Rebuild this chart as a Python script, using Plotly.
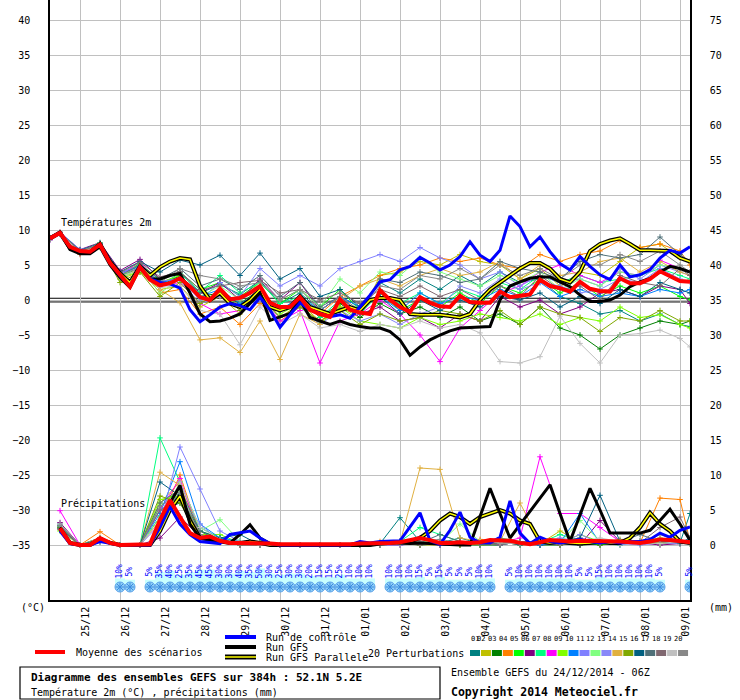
import plotly.graph_objects as go
import pandas as pd

# ---------------- time grids (hours after 24/12/2014 06Z) ----------------
base = pd.Timestamp("2014-12-24 06:00")
main_hours = list(range(0, 385, 6))                 # 65 steps, temperature runs
precip_hours = list(range(6, 385, 6))               # 64 steps, precipitation runs
pert_hours = [0] + list(range(6, 379, 12)) + [384]  # 34 steps, perturbation temps
pert_precip_hours = list(range(6, 379, 12)) + [384] # 33 steps, perturbation precip

# ---------------- temperature 2m (°C) ----------------
mean_temp = [8.8, 9.6, 7.6, 7.0, 6.9, 7.9, 5.3, 3.6, 1.9, 4.7, 2.9, 2.1, 2.4, 3.1, 1.9, 0.4,
             0.0, 1.6, 0.1, 0.3, 1.0, 2.0, -0.4, -1.0, -1.0, 0.4, -1.4, -2.0, -2.4, 0.1, -1.4, -1.8,
             -2.0, 1.4, 0.0, -1.0, -1.7, 0.4, -0.4, -0.9, -1.0, 0.6, -0.3, -0.4, -0.4, 1.2, 0.4, 0.6,
             0.8, 2.9, 2.0, 1.7, 1.2, 2.6, 1.6, 1.3, 1.2, 3.1, 2.4, 2.4, 3.0, 4.1, 3.4, 2.7, 2.6]
control_temp = [8.8, 9.6, 7.6, 7.0, 6.9, 7.9, 5.3, 3.5, 2.0, 4.8, 3.0, 2.5, 2.3, 1.7, -1.4, -3.1,
                -2.1, -1.0, -0.5, -0.8, -1.4, 0.4, -1.4, -3.9, -2.1, -0.4, -1.4, -1.9, -2.4, -2.1, -2.6, -1.0,
                0.7, 2.6, 2.9, 4.3, 4.8, 6.1, 5.3, 4.3, 5.0, 6.2, 8.3, 6.4, 5.5, 7.1, 12.0, 10.5,
                7.6, 9.0, 6.9, 5.2, 4.3, 6.2, 4.8, 3.6, 2.9, 5.0, 3.3, 3.6, 4.3, 6.0, 7.1, 6.7, 7.6]
gfs_temp = [8.9, 9.7, 7.2, 6.6, 6.6, 7.6, 5.0, 3.2, 1.8, 4.6, 3.0, 3.0, 3.5, 3.8, 1.0, -2.0,
            -3.1, -3.0, -2.6, -2.0, -0.5, 1.0, -2.9, -2.4, -1.9, 0.0, -2.5, -3.0, -3.5, -3.0, -3.5, -3.8,
            -4.0, -4.0, -4.5, -5.7, -7.9, -6.7, -5.7, -5.0, -4.4, -4.0, -3.9, -3.9, -3.8, 0.0, 2.0, 2.6,
            3.1, 3.3, 3.3, 2.6, 1.9, 0.7, -0.2, -0.2, 0.0, 0.7, 1.9, 2.6, 3.1, 4.0, 4.8, 4.5, 4.0]
para_temp = [8.8, 9.6, 7.4, 6.8, 6.8, 8.0, 5.5, 3.8, 2.5, 4.8, 3.5, 4.7, 5.5, 6.0, 5.8, 2.0,
             0.0, 1.0, -0.5, -1.0, 0.0, 1.5, -1.0, -1.5, -1.0, 0.5, -1.0, -1.5, -2.0, -1.5, -1.0, -1.5,
             0.0, 0.3, 0.3, 0.0, -2.0, -2.1, -2.1, -2.1, -2.3, -2.5, -2.0, 0.0, 1.5, 2.5, 3.5, 4.5,
             5.3, 5.3, 4.5, 3.0, 2.5, 4.0, 7.0, 8.0, 8.5, 8.8, 8.0, 7.1, 7.1, 7.1, 7.0, 6.0, 5.5]

pert_temp = {
    "01": [8.6, 9.5, 7.0, 8.0, 3.8, 5.0, 2.5, 3.4, 1.0, 2.2, 0.8, 2.8, -0.5, 1.0, -1.5, 0.5, -1.0,
           2.5, 1.0, 3.0, 1.5, 3.5, 2.0, 4.0, 2.5, 3.0, 0.5, -0.5, -2.0, -1.5, -3.0, -2.0, -3.5, -3.8],
    "02": [8.7, 9.4, 6.5, 7.5, 3.0, 4.0, 1.5, 2.0, -1.0, 0.5, -2.0, 1.0, -2.5, -0.5, -3.0, -1.0, -2.5,
           3.5, 4.0, 5.5, 5.0, 6.5, 5.5, 5.0, 3.0, 4.5, 2.0, 4.0, 3.5, 5.5, 7.5, 8.0, 6.0, 5.5],
    "03": [8.8, 9.6, 7.1, 8.0, 3.4, 4.5, 2.0, 3.5, 0.5, 1.0, -0.5, 1.5, -1.5, 0.0, -2.5, -0.5, -2.5,
           -0.5, -2.0, -1.0, -2.5, -1.0, -3.0, -2.0, -3.5, -1.0, -4.0, -5.0, -7.0, -5.0, -4.0, -3.0, -3.5, -3.0],
    "04": [8.9, 9.7, 6.8, 7.8, 3.2, 4.5, 1.0, 1.5, -2.0, -1.0, -3.5, -0.5, -3.0, -1.0, -2.0, 0.5, 2.0,
           3.5, 4.5, 5.0, 6.0, 5.5, 6.0, 5.0, 4.5, 6.5, 5.5, 6.5, 7.0, 8.5, 7.5, 8.0, 7.0, 5.0],
    "05": [8.8, 9.5, 6.9, 8.1, 3.5, 5.2, 2.8, 4.0, 1.5, 2.5, 0.5, 2.5, -0.5, 1.5, -1.0, 1.5, -1.5,
           1.0, -1.5, 0.0, -1.0, 1.0, -0.5, 2.0, 1.0, 3.0, 1.0, 2.5, 0.5, 2.0, 1.0, 2.0, 0.5, 0.0],
    "06": [8.7, 9.6, 7.2, 8.2, 4.2, 5.8, 3.0, 4.0, 1.0, 2.5, 0.0, 3.0, 0.0, 2.5, -1.5, 0.5, -2.0,
           -1.0, -3.0, -2.5, -4.0, -2.0, -3.0, 0.5, -1.0, 0.0, -2.0, -1.0, 1.0, 1.5, 0.5, 2.0, 1.5, -0.5],
    "07": [8.8, 9.5, 7.0, 7.9, 3.6, 4.2, 2.2, 3.8, 1.2, 3.5, 1.0, 2.5, -0.5, 0.5, -2.5, 0.0, -2.0,
           1.0, -0.5, 1.0, -0.5, 1.5, 0.5, 2.5, 1.5, 3.5, 2.5, 3.5, 2.5, 3.0, 3.5, 4.5, 3.5, 3.0],
    "08": [8.6, 9.4, 6.6, 7.7, 3.5, 5.5, 2.0, 2.5, -0.5, -2.0, -1.5, 0.5, -3.0, -1.5, -9.0, -3.0, -2.0,
           0.0, -2.0, -5.0, -8.8, -4.0, -1.5, 1.0, 2.0, 4.0, 5.0, 3.5, 2.5, 4.0, 3.5, 5.7, 4.5, 4.0],
    "09": [8.8, 9.6, 6.9, 7.8, 3.3, 4.0, 2.5, 3.5, 0.0, 1.0, -1.0, 1.5, -2.0, -0.5, -3.5, -1.0, -3.0,
           -3.5, -4.0, -2.5, -3.5, -3.0, -2.0, -2.5, -3.0, -2.0, -3.5, -2.5, -3.0, -1.0, -2.5, -2.1, -3.5, -4.0],
    "10": [8.7, 9.5, 7.1, 8.0, 3.7, 4.8, 2.4, 3.2, 0.5, 1.5, -0.5, 1.0, -1.5, 0.5, -1.5, 0.5, -1.0,
           0.5, -1.5, 1.0, -0.5, 0.5, 0.0, 1.5, 0.5, 2.5, 0.5, 1.5, 0.5, 1.0, 0.5, 1.5, 1.0, 1.5],
    "11": [8.8, 9.6, 7.0, 8.1, 3.9, 4.9, 2.7, 3.0, 0.0, 2.5, 0.5, 4.5, 2.0, 3.5, 2.0, 4.5, 5.5,
           6.5, 5.5, 7.5, 6.0, 5.0, 3.0, 4.0, 2.0, 3.5, 2.5, 3.0, 2.0, 4.5, 3.0, 5.0, 4.0, 3.5],
    "12": [8.8, 9.5, 6.9, 8.2, 3.0, 4.5, 1.0, 3.0, 0.5, 2.0, 0.0, 2.5, 0.0, 1.5, -1.0, 3.0, 1.0,
           4.0, 3.5, 6.0, 4.0, 3.0, 2.0, 3.5, 2.5, 4.0, 1.5, 3.0, 2.0, 4.0, 3.5, 5.0, 4.5, 4.0],
    "13": [8.9, 9.7, 7.2, 7.9, 3.8, 4.5, 2.3, 2.8, -0.5, 0.5, -1.0, 0.0, -2.5, -1.0, -3.5, -1.5, -3.0,
           -2.0, -3.5, -2.0, -1.0, 2.0, 1.0, 3.0, 1.5, 2.5, 2.0, 1.0, 1.5, 3.0, 2.5, 4.5, 3.0, 2.5],
    "14": [8.8, 9.6, 6.8, 7.7, 3.4, 4.3, 1.5, -0.4, -5.7, -5.4, -7.5, -3.0, -8.5, -2.0, -3.5, 0.0, 2.0,
           3.0, 2.0, 3.5, 4.5, 3.5, 4.0, 5.5, 3.0, 5.0, 3.5, 4.0, 5.5, 6.0, 4.0, 5.5, 4.0, 3.5],
    "15": [8.7, 9.5, 6.7, 7.6, 2.5, 4.0, 0.5, 2.5, -0.5, 1.0, -1.5, 0.5, -2.5, -1.0, -3.0, -1.5, -3.5,
           -2.0, -3.0, -2.5, -1.5, -2.0, -3.0, -1.5, -3.5, -1.0, -2.0, -2.5, -4.5, -2.5, -3.0, -1.5, -3.0, -3.0],
    "16": [8.8, 9.6, 7.1, 8.1, 4.0, 5.5, 4.0, 5.7, 5.0, 6.4, 3.5, 6.7, 3.0, 4.5, 0.5, 1.5, -1.0,
           0.5, -2.0, 0.0, -1.5, 0.0, -1.0, 0.5, 0.0, 1.0, -1.0, 0.5, -0.5, 1.5, 0.5, 2.5, 1.5, 1.0],
    "17": [8.8, 9.6, 7.0, 8.0, 3.5, 5.0, 3.0, 4.5, 2.0, 3.0, 1.5, 3.5, 0.5, 2.5, -1.0, 0.5, -2.0,
           3.0, 2.5, 4.0, 3.5, 2.5, 3.0, 5.5, 4.5, 4.0, 3.0, 5.5, 6.5, 6.0, 6.5, 9.0, 6.5, 5.5],
    "18": [8.7, 9.5, 6.9, 7.9, 3.9, 5.4, 3.3, 4.0, 1.5, 2.0, 2.5, 2.8, 1.0, 1.5, 0.0, 1.0, -0.5,
           1.5, 0.5, 2.0, 0.5, 1.5, 0.0, 2.0, 0.5, 3.5, 1.5, 2.0, 0.0, 3.5, 2.5, 2.0, 4.5, 3.5],
    "19": [8.7, 9.5, 6.8, 7.7, 3.3, 4.4, 1.8, 2.0, -1.5, -2.0, -6.4, -1.0, -3.5, -2.0, -4.0, -3.5, -4.5,
           -3.5, -4.0, -3.0, -4.0, -3.5, -4.7, -8.8, -9.0, -8.1, -2.3, -6.2, -9.0, -5.0, -4.8, -4.3, -5.5, -6.7],
    "20": [8.8, 9.6, 7.0, 8.0, 3.6, 4.6, 2.5, 4.5, 3.5, 3.0, 2.0, 2.5, 0.0, 1.5, -1.5, 0.5, -1.5,
           2.0, 1.5, 3.5, 3.0, 4.5, 3.0, 5.0, 3.5, 4.5, 3.0, 5.0, 5.0, 6.5, 5.5, 7.0, 5.0, 4.0],
}

# ---------------- precipitation (mm) ----------------
mean_precip = [2.4, 0.3, 0.0, 0.0, 1.0, 0.3, 0.0, 0.0, 0.0, 0.1, 3.6, 6.4, 4.0, 1.7, 1.0, 1.2,
               0.6, 0.3, 0.3, 0.3, 0.3, 0.2, 0.1, 0.1, 0.1, 0.1, 0.0, 0.0, 0.1, 0.1, 0.2, 0.2,
               0.3, 0.3, 0.4, 0.7, 1.0, 0.7, 0.3, 0.3, 0.4, 0.3, 0.4, 0.7, 0.7, 0.6, 0.3, 0.1,
               0.4, 0.7, 0.6, 0.5, 0.6, 0.6, 0.6, 0.6, 0.5, 0.4, 0.3, 0.5, 0.8, 0.7, 0.6, 0.4]
control_precip = [2.0, 0.2, 0.0, 0.0, 0.5, 0.2, 0.0, 0.0, 0.0, 0.0, 2.5, 5.5, 3.0, 1.5, 0.5, 0.3,
                  0.2, 1.5, 1.8, 2.0, 1.0, 0.2, 0.0, 0.0, 0.0, 0.0, 0.0, 0.0, 0.0, 0.0, 0.5, 0.3,
                  0.5, 0.6, 0.6, 2.6, 4.6, 0.6, 0.1, 2.1, 4.7, 1.1, 0.3, 0.3, 1.1, 6.3, 1.7, 0.2,
                  1.1, 0.5, 0.3, 0.5, 0.8, 0.5, 0.3, 0.5, 0.3, 0.5, 0.5, 0.8, 1.7, 1.1, 2.1, 2.6]
gfs_precip = [2.5, 0.3, 0.0, 0.0, 1.0, 0.3, 0.0, 0.0, 0.0, 0.0, 3.0, 6.0, 8.5, 3.0, 1.0, 0.8,
              0.5, 0.3, 1.5, 2.9, 1.0, 0.2, 0.0, 0.0, 0.0, 0.0, 0.0, 0.0, 0.0, 0.0, 0.0, 0.0,
              0.3, 0.5, 0.3, 0.2, 0.3, 0.2, 0.1, 0.0, 0.0, 0.0, 4.0, 8.1, 4.5, 1.0, 2.9, 4.8,
              6.7, 8.6, 4.5, 0.5, 4.3, 8.1, 5.0, 1.7, 1.7, 1.7, 1.7, 2.1, 3.5, 5.1, 3.0, 0.7]
para_precip = [2.3, 0.3, 0.0, 0.0, 0.8, 0.3, 0.0, 0.0, 0.0, 0.0, 2.0, 5.0, 7.0, 3.5, 1.0, 0.8,
               0.5, 0.3, 0.3, 0.5, 0.3, 0.0, 0.0, 0.0, 0.0, 0.0, 0.0, 0.0, 0.0, 0.0, 0.0, 0.0,
               0.2, 0.3, 0.5, 0.5, 1.0, 2.0, 3.5, 4.5, 4.0, 3.0, 4.0, 4.5, 5.0, 4.5, 3.5, 3.0,
               0.5, 0.3, 0.5, 0.3, 0.2, 0.3, 0.5, 0.3, 0.3, 1.0, 2.5, 4.6, 3.0, 2.0, 0.5, 0.3]

pert_precip = {
    "01": [3.0, 0.0, 0.8, 0.0, 0.0, 5.0, 6.0, 1.5, 1.0, 0.3, 0.2, 0.0, 0.0, 0.0, 0.0, 0.0, 0.2,
           3.9, 0.5, 0.3, 1.0, 0.2, 0.0, 0.5, 0.3, 0.2, 0.0, 0.5, 0.3, 0.2, 0.5, 0.3, 4.5],
    "02": [2.5, 0.0, 0.5, 0.0, 0.0, 6.0, 9.0, 2.0, 0.5, 0.2, 0.0, 0.0, 0.0, 0.0, 0.0, 0.0, 0.0,
           0.5, 0.0, 0.0, 0.3, 0.0, 0.5, 0.0, 0.2, 2.0, 0.5, 0.0, 0.3, 0.5, 1.0, 0.5, 0.3],
    "03": [2.8, 0.0, 1.0, 0.0, 0.0, 4.0, 7.5, 1.0, 0.8, 0.5, 0.5, 0.0, 0.0, 0.0, 0.0, 0.0, 0.0,
           0.3, 0.5, 0.0, 0.0, 0.0, 0.0, 0.5, 0.0, 0.0, 0.3, 0.0, 0.5, 0.3, 0.5, 0.2, 0.5],
    "04": [2.6, 0.0, 1.9, 0.0, 0.0, 3.5, 10.0, 1.5, 0.5, 0.3, 0.0, 0.0, 0.0, 0.0, 0.0, 0.0, 0.5,
           0.5, 1.0, 0.3, 0.2, 0.8, 0.5, 0.3, 0.5, 0.3, 0.2, 0.5, 0.3, 0.3, 6.7, 6.5, 0.5],
    "05": [2.2, 0.0, 0.5, 0.0, 0.0, 5.5, 8.0, 2.0, 1.0, 0.2, 0.0, 0.0, 0.0, 0.0, 0.0, 0.0, 0.0,
           0.3, 0.0, 0.2, 0.5, 0.0, 0.3, 0.2, 0.0, 0.5, 0.0, 0.2, 0.0, 0.5, 0.3, 0.3, 0.2],
    "06": [3.2, 0.0, 0.5, 0.0, 0.0, 1.0, 4.0, 1.2, 0.5, 0.0, 0.0, 0.0, 0.0, 0.0, 0.0, 0.0, 0.0,
           0.0, 0.3, 0.0, 0.0, 0.5, 0.3, 0.2, 0.0, 0.3, 0.0, 3.5, 0.5, 0.3, 0.0, 0.2, 0.3],
    "07": [2.5, 0.0, 0.5, 0.0, 0.0, 15.3, 9.0, 2.5, 1.0, 0.5, 0.0, 0.0, 0.0, 0.0, 0.0, 0.0, 0.0,
           0.5, 2.5, 1.5, 0.5, 0.3, 1.0, 0.5, 0.3, 1.5, 0.5, 0.5, 0.3, 0.5, 0.2, 0.3, 0.5],
    "08": [4.9, 0.0, 0.5, 0.0, 0.0, 5.0, 9.5, 1.0, 0.5, 0.0, 0.0, 0.0, 0.0, 0.0, 0.0, 0.0, 0.0,
           0.5, 1.0, 0.3, 0.5, 0.5, 0.3, 1.0, 12.6, 4.5, 4.5, 2.5, 0.5, 0.5, 0.3, 0.2, 0.5],
    "09": [2.0, 0.0, 0.8, 0.0, 0.0, 6.5, 7.0, 1.5, 1.5, 0.3, 0.0, 0.0, 0.0, 0.0, 0.0, 0.0, 0.0,
           0.3, 0.5, 0.3, 0.0, 0.5, 0.2, 0.3, 0.5, 0.3, 1.5, 0.5, 0.3, 0.5, 0.3, 0.2, 0.5],
    "10": [2.7, 0.0, 1.0, 0.0, 0.0, 4.5, 11.9, 3.0, 1.0, 0.5, 0.0, 0.0, 0.0, 0.0, 0.0, 0.0, 0.0,
           0.5, 0.3, 0.5, 0.3, 0.0, 0.5, 0.3, 0.0, 0.3, 4.5, 0.3, 0.5, 0.5, 0.3, 0.5, 0.5],
    "11": [2.4, 0.0, 0.5, 0.0, 0.0, 3.0, 14.0, 8.0, 2.0, 0.5, 0.0, 0.0, 0.0, 0.0, 0.0, 0.0, 0.0,
           0.3, 0.0, 0.2, 0.5, 0.3, 0.0, 0.5, 0.3, 1.0, 0.5, 0.3, 0.0, 0.5, 0.2, 0.3, 0.2],
    "12": [2.6, 0.0, 0.5, 0.0, 0.0, 4.0, 8.0, 2.0, 3.6, 0.5, 0.0, 0.0, 0.0, 0.0, 0.0, 0.0, 0.0,
           0.2, 0.5, 0.3, 3.0, 0.5, 0.3, 0.2, 0.5, 0.3, 3.5, 0.5, 0.3, 0.2, 0.5, 0.3, 0.5],
    "13": [2.2, 0.0, 0.6, 0.0, 0.0, 5.0, 7.0, 3.0, 0.5, 0.0, 0.0, 0.0, 0.0, 0.0, 0.0, 0.0, 0.0,
           0.0, 0.2, 0.0, 0.3, 0.0, 0.5, 0.3, 0.5, 0.2, 1.5, 0.3, 0.2, 0.0, 0.3, 0.2, 0.3],
    "14": [2.3, 0.0, 1.0, 0.0, 0.0, 10.4, 8.5, 1.5, 0.5, 0.3, 0.0, 0.0, 0.0, 0.0, 0.0, 0.0, 0.0,
           0.3, 11.0, 10.8, 1.0, 0.5, 0.5, 6.0, 0.5, 0.3, 0.5, 0.3, 0.2, 0.5, 0.3, 0.5, 0.2],
    "15": [2.5, 0.0, 0.7, 0.0, 0.0, 7.0, 6.0, 1.0, 0.5, 0.0, 0.0, 0.0, 0.0, 0.0, 0.0, 0.0, 0.0,
           0.2, 0.0, 0.5, 0.3, 0.0, 0.2, 0.5, 0.3, 0.0, 0.5, 0.3, 0.8, 0.3, 0.2, 0.5, 0.3],
    "16": [2.4, 0.0, 0.8, 0.0, 0.0, 9.0, 7.0, 2.0, 1.0, 1.5, 0.0, 0.0, 0.0, 0.0, 0.0, 0.0, 0.0,
           0.5, 0.3, 0.5, 0.3, 0.2, 0.5, 0.0, 0.3, 0.5, 1.0, 7.1, 0.5, 0.3, 0.5, 0.3, 1.0],
    "17": [2.7, 0.0, 0.5, 0.0, 0.0, 6.0, 8.0, 2.0, 0.5, 0.3, 0.0, 0.0, 0.0, 0.0, 0.0, 0.0, 0.0,
           0.5, 0.3, 1.5, 0.5, 0.3, 0.2, 0.5, 0.3, 0.5, 0.3, 0.2, 0.5, 1.5, 0.5, 0.3, 0.2],
    "18": [2.3, 0.0, 0.6, 0.0, 0.0, 5.0, 6.5, 1.5, 0.5, 0.0, 0.0, 0.0, 0.0, 0.0, 0.0, 0.0, 0.0,
           0.3, 0.0, 0.2, 0.5, 0.3, 0.0, 0.5, 0.3, 0.0, 0.5, 0.3, 0.5, 0.3, 2.5, 4.0, 1.0],
    "19": [3.0, 0.0, 0.5, 0.0, 0.0, 3.5, 9.0, 2.5, 0.8, 0.5, 0.0, 0.0, 0.0, 0.0, 0.0, 0.0, 0.0,
           0.2, 0.3, 0.5, 0.2, 0.5, 0.3, 0.2, 0.5, 0.3, 0.5, 1.0, 0.5, 0.3, 0.2, 0.5, 0.3],
    "20": [2.8, 0.0, 0.5, 0.0, 0.0, 5.5, 7.5, 1.5, 0.5, 0.3, 0.0, 0.0, 0.0, 0.0, 0.0, 0.0, 0.0,
           0.3, 0.5, 0.8, 0.3, 0.2, 0.5, 0.3, 0.2, 0.5, 0.3, 0.2, 0.5, 0.3, 1.5, 0.5, 0.3],
}

pert_colors = {
    "01": "#008080", "02": "#c0c000", "03": "#008000", "04": "#ff8000", "05": "#00ff00",
    "06": "#800080", "07": "#00ff80", "08": "#ff00ff", "09": "#80ff00", "10": "#0080ff",
    "11": "#8080ff", "12": "#80ff80", "13": "#8888f8", "14": "#e0b040", "15": "#80a800",
    "16": "#006080", "17": "#507078", "18": "#806870", "19": "#c0c0c0", "20": "#888888",
}

# ---------------- snow probability (%) ----------------
snow_hours = [42, 48,
              60, 66, 72, 78, 84, 90, 96, 102, 108, 114, 120, 126, 132, 138, 144, 150, 156, 162, 168,
              174, 180, 186, 192,
              204, 210, 216, 222, 228, 234, 240, 246, 252, 258, 264,
              276, 282, 288, 294, 300, 306, 312, 318, 324, 330, 336, 342, 348, 354, 360, 366,
              384]
snow_pct = [10, 5,
            5, 35, 40, 25, 35, 45, 45, 30, 30, 40, 35, 50, 30, 25, 30, 30, 20, 15, 15, 25, 10, 10, 10,
            10, 10, 10, 15, 5, 15, 5, 5, 5, 10, 10,
            5, 10, 10, 10, 10, 10, 10, 5, 5, 15, 10, 10, 10, 10, 10, 5,
            5]

tick_days = ["2014-12-25", "2014-12-26", "2014-12-27", "2014-12-28", "2014-12-29", "2014-12-30",
             "2014-12-31", "2015-01-01", "2015-01-02", "2015-01-03", "2015-01-04", "2015-01-05",
             "2015-01-06", "2015-01-07", "2015-01-08", "2015-01-09"]
tick_labels = ["25/12", "26/12", "27/12", "28/12", "29/12", "30/12", "31/12", "01/01", "02/01",
               "03/01", "04/01", "05/01", "06/01", "07/01", "08/01", "09/01"]

# ---------------- sanity checks ----------------
for k, v in pert_temp.items():
    if len(v) != len(pert_hours):
        raise ValueError(f"pert_temp {k} has {len(v)}")
for k, v in pert_precip.items():
    if len(v) != len(pert_precip_hours):
        raise ValueError(f"pert_precip {k} has {len(v)}")
for name, v in [("mean_temp", mean_temp), ("control_temp", control_temp), ("gfs_temp", gfs_temp),
                ("para_temp", para_temp)]:
    if len(v) != len(main_hours):
        raise ValueError(f"{name} has {len(v)}")
for name, v in [("mean_precip", mean_precip), ("control_precip", control_precip),
                ("gfs_precip", gfs_precip), ("para_precip", para_precip)]:
    if len(v) != len(precip_hours):
        raise ValueError(f"{name} has {len(v)}")
if len(snow_hours) != len(snow_pct):
    raise ValueError("snow")


def t(hours):
    return [base + pd.Timedelta(hours=h) for h in hours]


FONT = "DejaVu Sans Mono"
fig = go.Figure()

# ---- snow band ----
fig.add_trace(go.Bar(x=t(snow_hours), y=[(4 + 0.25 * p) / 7 for p in snow_pct], base=-40.7,
                     width=6 * 3600 * 1000, marker=dict(color="#c8ffff", line=dict(width=0)),
                     yaxis="y", hoverinfo="skip"))
fig.add_trace(go.Scatter(x=t(snow_hours), y=[-41.0] * len(snow_hours), mode="markers",
                         marker=dict(symbol="circle", size=10, color="#90d0f8",
                                     line=dict(color="#5aa0e8", width=1)), hoverinfo="skip"))
fig.add_trace(go.Scatter(x=t(snow_hours), y=[-41.0] * len(snow_hours), mode="markers",
                         marker=dict(symbol="asterisk-open", size=7, color="#3c8ce0",
                                     line=dict(color="#3c8ce0", width=1)), hoverinfo="skip"))

# ---- temperature ----
for k, v in pert_temp.items():
    c = pert_colors[k]
    fig.add_trace(go.Scatter(x=t(pert_hours), y=v, mode="lines+markers",
                             line=dict(color=c, width=1),
                             marker=dict(symbol="cross-thin", size=4, color=c, line=dict(color=c, width=1))))
fig.add_trace(go.Scatter(x=t(main_hours), y=para_temp, mode="lines", line=dict(color="black", width=4)))
fig.add_trace(go.Scatter(x=t(main_hours), y=para_temp, mode="lines", line=dict(color="#ffff00", width=1.5)))
fig.add_trace(go.Scatter(x=t(main_hours), y=gfs_temp, mode="lines", line=dict(color="black", width=3)))
fig.add_trace(go.Scatter(x=t(main_hours), y=control_temp, mode="lines", line=dict(color="#0000ff", width=3)))
fig.add_trace(go.Scatter(x=t(main_hours), y=mean_temp, mode="lines", line=dict(color="#ff0000", width=4)))

# ---- precipitation (right axis) ----
for k, v in pert_precip.items():
    c = pert_colors[k]
    fig.add_trace(go.Scatter(x=t(pert_precip_hours), y=v, mode="lines+markers", yaxis="y2",
                             line=dict(color=c, width=1),
                             marker=dict(symbol="cross-thin", size=4, color=c, line=dict(color=c, width=1))))
fig.add_trace(go.Scatter(x=t(precip_hours), y=para_precip, mode="lines", yaxis="y2", line=dict(color="black", width=4)))
fig.add_trace(go.Scatter(x=t(precip_hours), y=para_precip, mode="lines", yaxis="y2", line=dict(color="#ffff00", width=1.5)))
fig.add_trace(go.Scatter(x=t(precip_hours), y=gfs_precip, mode="lines", yaxis="y2", line=dict(color="black", width=3)))
fig.add_trace(go.Scatter(x=t(precip_hours), y=control_precip, mode="lines", yaxis="y2", line=dict(color="#0000ff", width=3)))
fig.add_trace(go.Scatter(x=t(precip_hours), y=mean_precip, mode="lines", yaxis="y2", line=dict(color="#ff0000", width=4)))

TOP = 300 / 7.0
fig.update_layout(
    width=740, height=700, margin=dict(l=50, r=50, t=0, b=100),
    paper_bgcolor="white", plot_bgcolor="white", showlegend=False, barmode="overlay",
    font=dict(family=FONT, size=10, color="black"),
    xaxis=dict(type="date", range=[base, base + pd.Timedelta(hours=384)],
               tickvals=tick_days, ticktext=tick_labels, tickangle=-90,
               showgrid=True, gridcolor="#c0c0c0", gridwidth=1,
               showline=True, linecolor="black", linewidth=1.5, ticks="",
               ticklabelstandoff=1, ticklabelshift=6, tickfont=dict(family=FONT, size=10)),
    yaxis=dict(range=[-TOP, TOP], tickvals=list(range(-35, 41, 5)),
               showgrid=True, gridcolor="#c0c0c0", gridwidth=1, zeroline=False,
               showline=True, linecolor="black", linewidth=1.5, ticks="",
               ticklabelstandoff=16, tickfont=dict(family=FONT, size=10)),
    yaxis2=dict(range=[-TOP + 35, TOP + 35], tickvals=list(range(0, 76, 5)), overlaying="y", side="right",
                showgrid=False, zeroline=False, showline=True, linecolor="black", linewidth=1.5,
                ticks="", ticklabelstandoff=16, tickfont=dict(family=FONT, size=10)),
)

# 0°C double line
for yv in (0.25, -0.28):
    fig.add_shape(type="line", xref="paper", yref="y", x0=0, x1=1, y0=yv, y1=yv,
                  line=dict(color="black", width=1), layer="between")

# snow percentages
for h, p in zip(snow_hours, snow_pct):
    fig.add_annotation(x=base + pd.Timedelta(hours=h), y=-38.8, xref="x", yref="y", text=f"{p}%",
                       textangle=-90, showarrow=False, font=dict(family=FONT, size=8, color="#0000ff"))


def px(xp):
    return (xp - 50) / 640.0


def py(yp):
    return (600 - yp) / 600.0


def label(xp, yp, text, size=10, bold=False, anchor="left"):
    fig.add_annotation(x=px(xp), y=py(yp), xref="paper", yref="paper", text=f"<b>{text}</b>" if bold else text,
                       showarrow=False, xanchor=anchor, yanchor="middle",
                       font=dict(family=FONT, size=size, color="black"))


label(59, 222, "Températures 2m")
label(59, 503, "Précipitations")
label(19, 607, "(°C)")
label(707, 607, "(mm)")

# legend lines
def seg(x0, x1, yp, color, width):
    fig.add_shape(type="line", xref="paper", yref="paper", x0=px(x0), x1=px(x1), y0=py(yp), y1=py(yp),
                  line=dict(color=color, width=width))


seg(225, 256, 637, "#0000ff", 4)
seg(225, 256, 647, "black", 4)
seg(225, 256, 657, "black", 5)
seg(225, 256, 657, "#ffff00", 1.5)
seg(35, 65, 652, "#ff0000", 4)
label(264, 637, "Run de contrôle")
label(264, 647, "Run GFS")
label(264, 657, "Run GFS Parallele")
label(74, 652, "Moyenne des scénarios")
label(366, 653, "20 Perturbations")

for i, (k, c) in enumerate(pert_colors.items()):
    x0 = 470 + 10.95 * i
    fig.add_shape(type="rect", xref="paper", yref="paper", x0=px(x0), x1=px(x0 + 10), y0=py(656), y1=py(650),
                  fillcolor=c, line=dict(width=0))
    fig.add_annotation(x=px(x0 + 5), y=py(644), xref="paper", yref="paper", text=k,
                       showarrow=False, borderpad=0, font=dict(family=FONT, size=7, color="black"))

# title box
fig.add_shape(type="rect", xref="paper", yref="paper", x0=px(20), x1=px(440), y0=py(699), y1=py(667),
              line=dict(color="black", width=1.2), fillcolor="white")
label(29, 677, "Diagramme des ensembles GEFS sur 384h : 52.1N 5.2E", size=11, bold=True)
label(29, 692, "Température 2m (°C) , précipitations (mm)")
label(449, 672, "Ensemble GEFS du 24/12/2014 - 06Z")
label(449, 692, "Copyright 2014 Meteociel.fr", size=11.5, bold=True)

fig.write_html("out.html", config={"displayModeBar": False},
               post_script="document.body.style.margin='0';document.body.style.padding='0';")
